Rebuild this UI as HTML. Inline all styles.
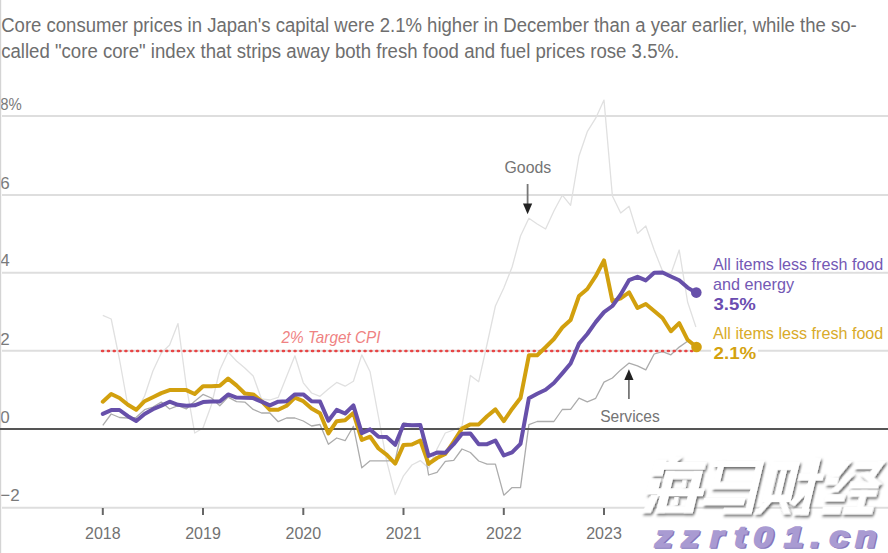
<!DOCTYPE html>
<html><head><meta charset="utf-8">
<style>
html,body{margin:0;padding:0;background:#fff;width:888px;height:553px;overflow:hidden}
svg{display:block}
text{font-family:"Liberation Sans", sans-serif}
</style></head><body>
<svg width="888" height="553" viewBox="0 0 888 553">
<rect width="888" height="553" fill="#fff"/>
<!-- title -->
<text x="1.2" y="32" font-size="19.5" fill="#6e6e6e" textLength="855.5" lengthAdjust="spacingAndGlyphs">Core consumer prices in Japan's capital were 2.1% higher in December than a year earlier, while the so-</text>
<text x="1.2" y="57.5" font-size="19.5" fill="#6e6e6e" textLength="678" lengthAdjust="spacingAndGlyphs">called "core core" index that strips away both fresh food and fuel prices rose 3.5%.</text>
<!-- gridlines -->
<g stroke="#dedede" stroke-width="2">
<line x1="2" y1="116.0" x2="888" y2="116.0"/>
<line x1="2" y1="195.0" x2="888" y2="195.0"/>
<line x1="2" y1="272.8" x2="888" y2="272.8"/>
<line x1="2" y1="350.8" x2="888" y2="350.8"/>
<line x1="2" y1="507.7" x2="888" y2="507.7"/>
</g>
<g font-size="17" fill="#7a7a7a">
<text x="0.3" y="109.5" textLength="21.5" lengthAdjust="spacingAndGlyphs">8%</text>
<text x="0.3" y="188.6">6</text>
<text x="0.3" y="266.3">4</text>
<text x="0.3" y="344.6">2</text>
<text x="0.3" y="423">0</text>
<text x="0.3" y="501">−2</text>
</g>
<rect x="0" y="0" width="1.2" height="553" fill="#d4d4d4"/>
<g stroke="#666" stroke-width="2">
<line x1="102.8" y1="508" x2="102.8" y2="515"/>
<line x1="203.0" y1="508" x2="203.0" y2="515"/>
<line x1="303.3" y1="508" x2="303.3" y2="515"/>
<line x1="403.5" y1="508" x2="403.5" y2="515"/>
<line x1="503.8" y1="508" x2="503.8" y2="515"/>
<line x1="604.0" y1="508" x2="604.0" y2="515"/>
</g>
<g font-size="16" fill="#727272" text-anchor="middle">
<text x="102.8" y="539">2018</text>
<text x="203.0" y="539">2019</text>
<text x="303.3" y="539">2020</text>
<text x="403.5" y="539">2021</text>
<text x="503.8" y="539">2022</text>
<text x="604.0" y="539">2023</text>
</g>
<polyline points="102.8,315.4 111.2,319.0 119.5,359.5 127.9,406.0 136.2,411.0 144.6,396.0 152.9,371.0 161.3,353.0 169.6,345.0 178.0,323.6 186.3,386.0 194.7,433.0 203.0,428.0 211.4,405.0 219.8,370.0 228.1,352.0 236.5,361.0 244.8,368.0 253.2,376.0 261.5,399.0 269.9,400.0 278.2,397.4 286.6,376.6 294.9,355.8 303.3,382.8 311.6,393.0 320.0,396.3 328.4,389.0 336.7,382.4 345.1,386.2 353.4,381.2 361.8,354.9 370.1,371.8 378.5,417.0 386.8,461.7 395.2,494.5 403.5,475.8 411.9,465.0 420.3,460.6 428.6,468.0 437.0,449.0 445.3,433.0 453.7,430.0 462.0,426.0 470.4,375.4 478.7,381.7 487.1,344.0 495.4,306.0 503.8,288.0 512.1,267.0 520.5,236.0 528.9,218.3 537.2,224.0 545.6,229.0 553.9,211.0 562.3,195.2 570.6,205.3 579.0,156.0 587.3,131.7 595.7,118.2 604.0,100.1 612.4,196.0 620.7,213.0 629.1,206.3 637.5,233.4 645.8,226.0 654.2,250.0 662.5,271.0 670.9,274.0 679.2,250.0 687.6,302.0 695.9,327.0" fill="none" stroke="#e0e0e0" stroke-width="1.3" stroke-linejoin="round"/>
<polyline points="102.8,425.3 111.2,414.0 119.5,417.5 127.9,418.0 136.2,417.3 144.6,409.7 152.9,407.0 161.3,402.1 169.6,409.0 178.0,405.7 186.3,408.9 194.7,401.3 203.0,394.4 211.4,398.0 219.8,405.7 228.1,397.1 236.5,401.6 244.8,402.1 253.2,409.4 261.5,413.0 269.9,413.0 278.2,421.7 286.6,418.0 294.9,418.0 303.3,421.0 311.6,426.0 320.0,424.5 328.4,444.3 336.7,438.0 345.1,440.7 353.4,426.2 361.8,467.8 370.1,460.8 378.5,460.8 386.8,460.8 395.2,460.5 403.5,423.0 411.9,424.5 420.3,426.0 428.6,475.0 437.0,472.4 445.3,461.4 453.7,460.3 462.0,449.0 470.4,452.5 478.7,461.0 487.1,464.2 495.4,464.2 503.8,495.2 512.1,487.6 520.5,487.6 528.9,424.6 537.2,421.5 545.6,421.5 553.9,421.5 562.3,409.5 570.6,409.4 579.0,398.2 587.3,401.8 595.7,398.3 604.0,382.1 612.4,378.0 620.7,369.9 629.1,363.1 637.5,365.8 645.8,369.9 654.2,354.0 662.5,351.6 670.9,354.8 679.2,347.1 687.6,341.3 695.9,345.0" fill="none" stroke="#acacac" stroke-width="1.3" stroke-linejoin="round"/>
<line x1="102.1" y1="351" x2="693" y2="351" stroke="#e84545" stroke-width="2.5" stroke-linecap="round" stroke-dasharray="1 4.833"/>
<text x="281.5" y="342.5" font-size="16.5" font-style="italic" fill="#ef8282" textLength="99" lengthAdjust="spacingAndGlyphs">2% Target CPI</text>
<line x1="0" y1="429" x2="888" y2="429" stroke="#555" stroke-width="2"/>
<polyline points="102.8,401.7 111.2,394.0 119.5,398.0 127.9,404.8 136.2,409.8 144.6,401.2 152.9,397.2 161.3,393.1 169.6,390.1 178.0,389.9 186.3,390.1 194.7,394.0 203.0,386.3 211.4,386.3 219.8,385.8 228.1,378.6 236.5,385.4 244.8,393.5 253.2,394.4 261.5,401.2 269.9,409.8 278.2,409.8 286.6,405.7 294.9,397.6 303.3,401.2 311.6,408.5 320.0,413.3 328.4,433.4 336.7,421.2 345.1,420.3 353.4,413.1 361.8,440.0 370.1,436.7 378.5,448.5 386.8,454.8 395.2,463.6 403.5,444.9 411.9,444.5 420.3,440.6 428.6,463.9 437.0,458.0 445.3,454.0 453.7,441.5 462.0,428.5 470.4,424.4 478.7,424.4 487.1,416.3 495.4,409.4 503.8,421.2 512.1,408.9 520.5,398.1 528.9,355.3 537.2,355.3 545.6,347.2 553.9,339.0 562.3,327.5 570.6,320.0 579.0,296.0 587.3,289.0 595.7,276.2 604.0,260.4 612.4,301.1 620.7,298.4 629.1,292.4 637.5,308.0 645.8,304.0 654.2,311.0 662.5,318.0 670.9,331.2 679.2,323.1 687.6,339.8 695.9,346.5" fill="none" stroke="#d2a00e" stroke-width="4" stroke-linejoin="round" stroke-linecap="round"/>
<polyline points="102.8,413.9 111.2,410.1 119.5,410.0 127.9,416.2 136.2,421.0 144.6,414.0 152.9,409.2 161.3,405.6 169.6,401.7 178.0,404.8 186.3,405.7 194.7,405.3 203.0,402.1 211.4,401.6 219.8,401.6 228.1,394.4 236.5,397.6 244.8,397.8 253.2,398.1 261.5,401.7 269.9,405.3 278.2,401.7 286.6,401.2 294.9,394.4 303.3,394.4 311.6,401.2 320.0,401.5 328.4,420.7 336.7,409.9 345.1,413.5 353.4,405.4 361.8,433.1 370.1,429.4 378.5,436.7 386.8,437.1 395.2,444.8 403.5,424.8 411.9,425.2 420.3,424.9 428.6,456.0 437.0,452.6 445.3,452.8 453.7,444.2 462.0,433.8 470.4,433.6 478.7,444.2 487.1,444.2 495.4,440.5 503.8,455.5 512.1,452.3 520.5,443.8 528.9,398.2 537.2,393.8 545.6,389.8 553.9,383.0 562.3,373.4 570.6,363.5 579.0,343.6 587.3,334.0 595.7,322.1 604.0,312.1 612.4,306.0 620.7,294.5 629.1,280.1 637.5,276.8 645.8,280.4 654.2,272.7 662.5,272.5 670.9,276.5 679.2,280.3 687.6,287.6 695.9,292.6" fill="none" stroke="#6750aa" stroke-width="4" stroke-linejoin="round" stroke-linecap="round"/>
<circle cx="696.3" cy="292.6" r="5.3" fill="#6750aa"/>
<circle cx="696.5" cy="347" r="5.3" fill="#d2a00e"/>
<text x="504.5" y="173.2" font-size="16" fill="#747474" textLength="46.7" lengthAdjust="spacingAndGlyphs">Goods</text>
<line x1="527.6" y1="184" x2="527.6" y2="205" stroke="#777" stroke-width="1.8"/>
<polygon points="523,203.5 532.2,203.5 527.6,214.3" fill="#222"/>
<text x="600.2" y="422.1" font-size="16" fill="#747474" textLength="59.6" lengthAdjust="spacingAndGlyphs">Services</text>
<line x1="628.9" y1="399" x2="628.9" y2="378" stroke="#777" stroke-width="1.8"/>
<polygon points="624.3,380 633.5,380 628.9,369.2" fill="#222"/>
<rect x="711" y="345" width="47" height="12" fill="#fff"/>
<g font-size="17" stroke="#fff" stroke-width="3" paint-order="stroke" stroke-linejoin="round">
<text x="713" y="270.3" fill="#7459b5" textLength="170.3" lengthAdjust="spacingAndGlyphs">All items less fresh food</text>
<text x="713" y="290" fill="#7459b5" textLength="81" lengthAdjust="spacingAndGlyphs">and energy</text>
<text x="713.5" y="310.2" fill="#6a4cb0" font-weight="bold" font-size="17" textLength="42.3" lengthAdjust="spacingAndGlyphs">3.5%</text>
<text x="713" y="339.2" fill="#d9ab2a" textLength="170.3" lengthAdjust="spacingAndGlyphs">All items less fresh food</text>
<text x="713.5" y="358.9" fill="#d4a20f" font-weight="bold" font-size="17" textLength="42.8" lengthAdjust="spacingAndGlyphs">2.1%</text>
</g>
<defs><filter id="ds" x="-20%" y="-20%" width="140%" height="140%"><feDropShadow dx="1.9" dy="2.1" stdDeviation="1.3" flood-color="#000" flood-opacity="0.6"/></filter></defs>
<g fill="#fff" filter="url(#ds)" transform="translate(0,487) skewX(-13.4) translate(0,-487)">
<polygon points="649.0,460.0 660.0,460.0 660.0,476.0 649.0,476.0"/>
<polygon points="648.0,479.0 659.0,479.0 659.0,494.5 648.0,494.5"/>
<polygon points="653.0,495.0 661.0,495.0 657.0,513.0 648.0,513.0"/>
<polygon points="660.0,466.0 667.0,457.0 675.0,457.0 668.0,466.0"/>
<polygon points="658.0,462.0 700.5,462.0 700.5,469.5 658.0,469.5"/>
<polygon points="662.0,471.0 671.0,471.0 671.0,513.0 662.0,513.0"/>
<polygon points="690.0,471.0 699.0,471.0 699.0,513.0 690.0,513.0"/>
<polygon points="662.0,471.0 699.0,471.0 699.0,479.0 662.0,479.0"/>
<polygon points="659.0,488.5 705.0,488.5 705.0,496.0 659.0,496.0"/>
<polygon points="662.0,506.0 699.0,506.0 699.0,513.0 662.0,513.0"/>
<polygon points="681.0,480.0 685.0,480.0 686.0,488.0 682.0,488.0"/>
<polygon points="677.0,497.0 681.0,497.0 682.0,505.0 678.0,505.0"/>
<polygon points="709.0,461.0 758.0,461.0 758.0,467.0 709.0,467.0"/>
<polygon points="713.0,461.0 719.0,461.0 719.0,488.0 713.0,488.0"/>
<polygon points="712.0,482.0 752.0,482.0 752.0,489.0 712.0,489.0"/>
<polygon points="751.0,461.0 758.0,461.0 758.0,513.0 751.0,513.0"/>
<polygon points="729.0,508.0 758.0,508.0 758.0,514.0 729.0,514.0"/>
<polygon points="707.0,498.0 748.0,498.0 748.0,505.0 707.0,505.0"/>
<polygon points="766.0,462.0 773.6,462.0 773.6,502.0 766.0,502.0"/>
<polygon points="787.0,462.0 794.0,462.0 794.0,502.0 787.0,502.0"/>
<polygon points="766.0,462.0 794.0,462.0 794.0,470.0 766.0,470.0"/>
<polygon points="777.0,470.0 783.0,470.0 783.0,497.0 777.0,497.0"/>
<polygon points="766.0,495.0 794.0,495.0 794.0,502.0 766.0,502.0"/>
<polygon points="768.0,502.0 775.0,502.0 767.0,514.0 760.0,514.0"/>
<polygon points="783.0,502.0 790.0,502.0 797.0,514.0 790.0,514.0"/>
<polygon points="796.4,473.8 821.1,473.8 821.1,480.5 796.4,480.5"/>
<polygon points="807.0,458.0 814.0,458.0 814.0,515.0 807.0,515.0"/>
<polygon points="800.0,509.0 815.0,509.0 815.0,515.0 800.0,515.0"/>
<polygon points="808.0,483.0 814.0,486.0 799.0,506.0 793.0,503.0"/>
<polygon points="837.8,461.0 845.8,461.0 836.6,477.0 828.6,477.0"/>
<polygon points="824.7,477.0 836.7,477.0 836.7,485.0 824.7,485.0"/>
<polygon points="843.9,474.0 851.9,474.0 839.2,492.0 831.2,492.0"/>
<polygon points="827.6,494.5 847.6,494.5 847.6,501.4 827.6,501.4"/>
<polygon points="827.6,506.4 846.6,506.4 846.6,514.3 827.6,514.3"/>
<polygon points="850.0,462.0 871.0,462.0 871.0,469.0 850.0,469.0"/>
<polygon points="871.8,461.0 879.8,461.0 871.9,478.0 863.9,478.0"/>
<polygon points="856.9,474.0 864.4,472.0 881.3,484.0 874.0,487.0"/>
<polygon points="849.5,482.0 878.5,482.0 878.5,488.5 849.5,488.5"/>
<polygon points="851.5,490.0 878.5,490.0 878.5,496.7 851.5,496.7"/>
<polygon points="861.6,490.0 868.6,490.0 868.6,507.0 861.6,507.0"/>
<polygon points="848.6,506.4 878.6,506.4 878.6,514.3 848.6,514.3"/>
</g>
<g font-weight="bold" font-style="italic" font-size="30" text-anchor="middle">
<text transform="translate(664.9,548) scale(1.18,1)" fill="#8777bd" stroke="#8777bd" stroke-width="1.6">z</text>
<text transform="translate(663.6,546.6) scale(1.18,1)" fill="#a99bd2" stroke="#a99bd2" stroke-width="1.6">z</text>
<text transform="translate(691.3,548) scale(1.18,1)" fill="#8777bd" stroke="#8777bd" stroke-width="1.6">z</text>
<text transform="translate(690.0,546.6) scale(1.18,1)" fill="#a99bd2" stroke="#a99bd2" stroke-width="1.6">z</text>
<text transform="translate(717.9,548) scale(1.18,1)" fill="#8777bd" stroke="#8777bd" stroke-width="1.6">r</text>
<text transform="translate(716.6,546.6) scale(1.18,1)" fill="#a99bd2" stroke="#a99bd2" stroke-width="1.6">r</text>
<text transform="translate(741.3,548) scale(1.18,1)" fill="#8777bd" stroke="#8777bd" stroke-width="1.6">t</text>
<text transform="translate(740.0,546.6) scale(1.18,1)" fill="#a99bd2" stroke="#a99bd2" stroke-width="1.6">t</text>
<text transform="translate(764.5,548) scale(1.18,1)" fill="#8777bd" stroke="#8777bd" stroke-width="1.6">0</text>
<text transform="translate(763.2,546.6) scale(1.18,1)" fill="#a99bd2" stroke="#a99bd2" stroke-width="1.6">0</text>
<text transform="translate(794.9,548) scale(1.18,1)" fill="#8777bd" stroke="#8777bd" stroke-width="1.6">1</text>
<text transform="translate(793.6,546.6) scale(1.18,1)" fill="#a99bd2" stroke="#a99bd2" stroke-width="1.6">1</text>
<text transform="translate(816.5,548) scale(1.18,1)" fill="#8777bd" stroke="#8777bd" stroke-width="1.6">.</text>
<text transform="translate(815.2,546.6) scale(1.18,1)" fill="#a99bd2" stroke="#a99bd2" stroke-width="1.6">.</text>
<text transform="translate(840.5,548) scale(1.18,1)" fill="#8777bd" stroke="#8777bd" stroke-width="1.6">c</text>
<text transform="translate(839.2,546.6) scale(1.18,1)" fill="#a99bd2" stroke="#a99bd2" stroke-width="1.6">c</text>
<text transform="translate(867.0,548) scale(1.18,1)" fill="#8777bd" stroke="#8777bd" stroke-width="1.6">n</text>
<text transform="translate(865.7,546.6) scale(1.18,1)" fill="#a99bd2" stroke="#a99bd2" stroke-width="1.6">n</text>
</g>
</svg>
</body></html>
